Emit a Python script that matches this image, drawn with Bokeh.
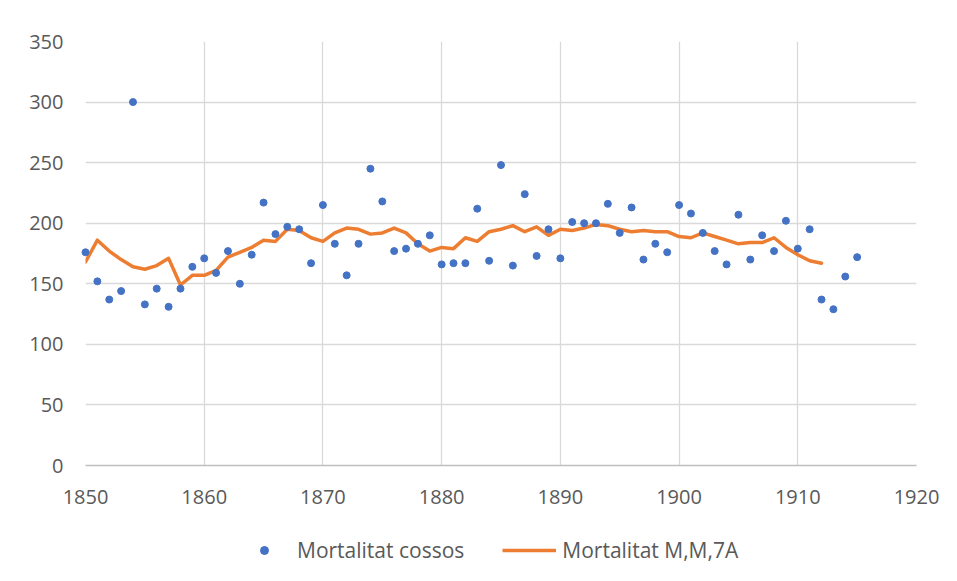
from bokeh.plotting import figure
from bokeh.layouts import column
from bokeh.models import ColumnDataSource, Legend, LegendItem, FixedTicker, Range1d
from bokeh.embed import file_html
from bokeh.resources import INLINE

years = list(range(1850, 1916))
mortalitat = [176, 152, 137, 144, 300, 133, 146, 131, 146, 164,
              171, 159, 177, 150, 174, 217, 191, 197, 195, 167,
              215, 183, 157, 183, 245, 218, 177, 179, 183, 190,
              166, 167, 167, 212, 169, 248, 165, 224, 173, 195,
              171, 201, 200, 200, 216, 192, 213, 170, 183, 176,
              215, 208, 192, 177, 166, 207, 170, 190, 177, 202,
              179, 195, 137, 129, 156, 172]

ma_years = list(range(1850, 1913))
mitjana = [168, 186, 177, 170, 164, 162, 165, 171, 149, 157,
           157, 161, 172, 176, 180, 186, 185, 195, 194, 188,
           185, 192, 196, 195, 191, 192, 196, 192, 183, 177,
           180, 179, 188, 185, 193, 195, 198, 193, 197, 190,
           195, 194, 196, 199, 198, 195, 193, 194, 193, 193,
           189, 188, 192, 189, 186, 183, 184, 184, 188, 180,
           174, 169, 167]

series_names = ["Mortalitat cossos", "Mortalitat M,M,7A"]
x_ticks = [1850, 1860, 1870, 1880, 1890, 1900, 1910, 1920]
y_ticks = [0, 50, 100, 150, 200, 250, 300, 350]

FONT = "Open Sans"
GRAY = "#595959"
BLUE = "#4472C4"
ORANGE = "#ED7D31"

p = figure(width=949, height=515, output_backend="svg", toolbar_location=None,
           x_range=Range1d(1850, 1920), y_range=Range1d(0, 350),
           min_border_left=85, min_border_right=33, min_border_top=41,
           min_border_bottom=50)
p.outline_line_color = None
p.background_fill_color = "white"
p.border_fill_color = "white"

src_pts = ColumnDataSource(dict(x=years, y=mortalitat))
src_ma = ColumnDataSource(dict(x=ma_years, y=mitjana))

r_ma = p.line("x", "y", source=src_ma, line_color=ORANGE, line_width=3.5,
              line_join="round", line_cap="round")
r_pts = p.scatter("x", "y", source=src_pts, size=7, fill_color=BLUE,
                  line_color=BLUE)
r_pts.level = "overlay"

for ax in (p.xaxis[0], p.yaxis[0]):
    ax.major_tick_line_color = None
    ax.minor_tick_line_color = None
    ax.major_label_text_font = FONT
    ax.major_label_text_font_size = "20px"
    ax.major_label_text_color = GRAY
p.xaxis.ticker = FixedTicker(ticks=x_ticks)
p.yaxis.ticker = FixedTicker(ticks=y_ticks)
p.xaxis.axis_line_color = "#BFBFBF"
p.xaxis.axis_line_width = 1.5
p.yaxis.axis_line_color = None
p.xaxis.major_label_standoff = 18
p.yaxis.major_label_standoff = 16

p.xgrid.ticker = FixedTicker(ticks=x_ticks)
p.ygrid.ticker = FixedTicker(ticks=y_ticks)
p.xgrid.grid_line_color = "#D9D9D9"
p.ygrid.grid_line_color = "#D9D9D9"
p.xgrid.grid_line_width = 1.3
p.ygrid.grid_line_width = 1.3

# legend strip below the chart (series drawn out of view, only legend shows)
lg = figure(width=949, height=58, output_backend="svg", toolbar_location=None,
            x_range=Range1d(1850, 1920), y_range=Range1d(-2, -1),
            min_border_left=0, min_border_right=0, min_border_top=0,
            min_border_bottom=0, x_axis_type=None, y_axis_type=None)
lg.outline_line_color = None
lg.xgrid.visible = False
lg.ygrid.visible = False
d_pts = lg.scatter("x", "y", source=src_pts, size=7, fill_color=BLUE, line_color=BLUE)
d_ma = lg.line("x", "y", source=src_ma, line_color=ORANGE, line_width=3.5)

legend = Legend(items=[LegendItem(label=series_names[0], renderers=[d_pts]),
                       LegendItem(label=series_names[1], renderers=[d_ma])],
                orientation="horizontal", location=(152, 9),
                label_text_font=FONT, label_text_font_size="21px",
                label_text_color=GRAY, glyph_width=54, label_standoff=6,
                spacing=38, border_line_color=None, background_fill_alpha=0,
                margin=0, padding=0)
lg.add_layout(legend, "center")

layout = column(p, lg, spacing=0)
open("out.html", "w").write(file_html(layout, INLINE))
